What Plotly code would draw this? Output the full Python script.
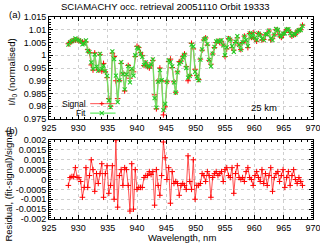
import plotly.graph_objects as go

# ---------------- data ----------------
wavelength = [
    928.3, 928.6, 928.9, 929.2, 929.5, 929.8, 930.1, 930.4, 930.7, 931.0,
    931.3, 931.6, 931.9, 932.2, 932.5, 932.8, 933.1, 933.4, 933.7, 934.0,
    934.3, 934.6, 934.9, 935.2, 935.5, 935.8, 936.1, 936.4, 936.7, 937.0,
    937.3, 937.6, 937.9, 938.2, 938.5, 938.8, 939.1, 939.4, 939.7, 940.0,
    940.3, 940.6, 940.9, 941.2, 941.5, 941.8, 942.1, 942.4, 942.7, 943.0,
    943.3, 943.6, 943.9, 944.2, 944.5, 944.8, 945.1, 945.4, 945.7, 946.0,
    946.3, 946.6, 946.9, 947.2, 947.5, 947.8, 948.1, 948.4, 948.7, 949.0,
    949.3, 949.6, 949.9, 950.2, 950.5, 950.8, 951.1, 951.4, 951.7, 952.0,
    952.3, 952.6, 952.9, 953.2, 953.5, 953.8, 954.1, 954.4, 954.7, 955.0,
    955.3, 955.6, 955.9, 956.2, 956.5, 956.8, 957.1, 957.4, 957.7, 958.0,
    958.3, 958.6, 958.9, 959.2, 959.5, 959.8, 960.1, 960.4, 960.7, 961.0,
    961.3, 961.6, 961.9, 962.2, 962.5, 962.8, 963.1, 963.4, 963.7, 964.0,
    964.3, 964.6, 964.9, 965.2, 965.5, 965.8, 966.1, 966.4, 966.7, 967.0,
    967.3, 967.6, 967.9, 968.2,
]

signal = [
    1.0045, 1.0050, 1.0055, 1.0058, 1.0060, 1.0060, 1.0057, 1.0055, 1.0052, 1.0050,
    1.0052, 1.0022, 1.0010, 0.9962, 0.9942, 1.0009, 0.9952, 0.9942, 1.0002, 0.9938,
    0.9968, 0.9935, 0.9912, 0.9830, 0.9800, 1.0008, 0.9995, 0.9900, 0.9830, 0.9900,
    0.9968, 0.9930, 0.9860, 0.9920, 0.9960, 0.9910, 0.9940, 0.9935, 0.9995, 1.0035,
    1.0030, 1.0010, 0.9998, 0.9960, 0.9970, 0.9955, 0.9950, 0.9962, 0.9980, 0.9845,
    0.9790, 0.9900, 0.9950, 0.9900, 0.9766, 0.9798, 0.9896, 0.9975, 0.9985, 0.9952,
    0.9896, 0.9855, 0.9935, 0.9975, 0.9977, 0.9994, 1.0005, 0.9955, 0.9900, 0.9920,
    1.0047, 1.0025, 0.9945, 0.9920, 0.9905, 0.9985, 1.0020, 1.0060, 1.0068, 1.0040,
    0.9980, 0.9965, 1.0005, 1.0030, 1.0050, 1.0055, 1.0050, 1.0055, 1.0040, 0.9995,
    1.0025, 1.0065, 1.0060, 1.0030, 1.0020, 1.0050, 1.0068, 1.0040, 1.0022, 1.0050,
    1.0075, 1.0055, 1.0030, 1.0085, 1.0070, 1.0088, 1.0065, 1.0055, 1.0085, 1.0080,
    1.0060, 1.0062, 1.0080, 1.0085, 1.0095, 1.0060, 1.0065, 1.0080, 1.0100, 1.0095,
    1.0080, 1.0070, 1.0080, 1.0090, 1.0100, 1.0098, 1.0090, 1.0075, 1.0080, 1.0082,
    1.0095, 1.0097, 1.0100, 1.0118,
]

fit = [
    1.0042, 1.0051, 1.00565, 1.00595, 1.0066, 1.0061, 1.0058, 1.0054, 1.0043, 1.0046,
    1.0058, 1.0018, 1.0012, 0.9972, 0.9947, 1.0003, 0.9955, 0.9940, 1.0005, 0.9946,
    0.9959, 0.9938, 0.9919, 0.9823, 0.9797, 1.0015, 0.9985, 0.9920, 0.9816, 0.9902,
    0.9973, 0.9927, 0.9866, 0.9925, 0.9957, 0.9894, 0.9948, 0.9920, 1.0000, 1.0030,
    1.0026, 1.0006, 0.9994, 0.9961, 0.9972, 0.9957, 0.9954, 0.99645, 0.9984, 0.9832,
    0.9795, 0.9897, 0.9942, 0.9902, 0.9785, 0.9809, 0.9896, 0.9981, 0.9973, 0.9956,
    0.9894, 0.9854, 0.9933, 0.9967, 0.9974, 0.9992, 1.0002, 0.9950, 0.9912, 0.9919,
    1.0042, 1.0035, 0.9935, 0.9917, 0.9902, 0.9983, 1.0023, 1.0062, 1.0067, 1.0044,
    0.9982, 0.9956, 1.0006, 1.0033, 1.0054, 1.0057, 1.0053, 1.0059, 1.0039, 1.0000,
    1.0031, 1.0067, 1.0061, 1.0036, 1.0013, 1.0053, 1.0075, 1.0041, 1.0022, 1.0051,
    1.0074, 1.0059, 1.0036, 1.0086, 1.0070, 1.0085, 1.0067, 1.0059, 1.0086, 1.0079,
    1.0065, 1.0060, 1.0083, 1.0082, 1.0097, 1.0066, 1.0059, 1.0081, 1.0103, 1.0099,
    1.0079, 1.0072, 1.0085, 1.0086, 1.0101, 1.0102, 1.0087, 1.0077, 1.0085, 1.0082,
    1.0093, 1.0098, 1.0099, 1.0115,
]

residual = [
    -0.0003, 0.0001, 0.00015, 0.00015, 0.0006, 0.0001, 0.0001, -0.0001, -0.0009, -0.0004,
    0.0006, -0.0004, 0.0002, 0.0010, 0.0005, -0.0006, 0.0003, -0.0002, 0.0003, 0.0008,
    -0.0009, 0.0003, 0.0007, -0.0007, -0.0003, 0.0007, -0.0010, 0.0020, -0.0014, 0.0002,
    0.0005, -0.0003, 0.0006, 0.0005, -0.0003, -0.0016, 0.0008, -0.0015, 0.0005, -0.0005,
    -0.0004, -0.0004, -0.0004, 0.0001, 0.0002, 0.0002, 0.0004, 0.00025, 0.0004, -0.0013,
    0.0005, -0.0003, -0.0008, 0.0002, 0.0019, 0.0011, 0.0000, 0.0006, -0.0012, 0.0004,
    -0.0002, -0.0001, -0.0002, -0.0008, -0.0003, -0.0002, -0.0003, -0.0005, 0.0012, -0.0001,
    -0.0005, 0.0010, -0.0010, -0.0003, -0.0003, -0.0002, 0.0003, 0.0002, -0.0001, 0.0004,
    0.0002, -0.0009, 0.0001, 0.0003, 0.0004, 0.0002, 0.0003, 0.0004, -0.0001, 0.0005,
    0.0006, 0.0002, 0.0001, 0.0006, -0.0007, 0.0003, 0.0007, 0.0001, 0.0000, 0.0001,
    -0.0001, 0.0004, 0.0006, 0.0001, 0.0000, -0.0003, 0.0002, 0.0004, 0.0001, -0.0001,
    0.0005, -0.0002, 0.0003, -0.0003, 0.0002, 0.0006, -0.0006, 0.0001, 0.0003, 0.0004,
    -0.0001, 0.0002, 0.0005, -0.0004, 0.0001, 0.0004, -0.0003, 0.0002, 0.0005, 0.0000,
    -0.0002, 0.0001, -0.0001, -0.0003,
]

x_ticks = [925, 930, 935, 940, 945, 950, 955, 960, 965, 970]
top_ticks = [0.975, 0.98, 0.985, 0.99, 0.995, 1.0, 1.005, 1.01, 1.015]
top_labels = ["0.975", "0.98", "0.985", "0.99", "0.995", "1", "1.005", "1.01", "1.015"]
bot_ticks = [-0.002, -0.0015, -0.001, -0.0005, 0, 0.0005, 0.001, 0.0015, 0.002]
bot_labels = ["-0.002", "-0.0015", "-0.001", "-0.0005", "0", "0.0005", "0.001", "0.0015", "0.002"]

title_text = "SCIAMACHY occ. retrieval 20051110 Orbit 19333"

# ---------------- styles ----------------
FONT = "Liberation Sans, Arial, sans-serif"
RED_LINE = "rgba(255,50,50,0.85)"
RED_MARK = "#ff0000"
GREEN_LINE = "rgba(100,235,100,0.9)"
GREEN_MARK = "#22cc22"

fig = go.Figure()

fig.add_trace(go.Scatter(
    x=wavelength, y=signal, mode="lines+markers", name="Signal",
    line=dict(color=RED_LINE, width=1),
    marker=dict(symbol="cross-thin", size=4, line=dict(color=RED_MARK, width=1)),
    xaxis="x", yaxis="y", showlegend=False,
))
fig.add_trace(go.Scatter(
    x=wavelength, y=fit, mode="lines+markers", name="Fit",
    line=dict(color=GREEN_LINE, width=1.4),
    marker=dict(symbol="x-thin", size=4, line=dict(color=GREEN_MARK, width=1.1)),
    xaxis="x", yaxis="y", showlegend=False,
))
fig.add_trace(go.Scatter(
    x=wavelength, y=residual, mode="lines+markers", name="Residual",
    line=dict(color=RED_LINE, width=1),
    marker=dict(symbol="cross-thin", size=4, line=dict(color=RED_MARK, width=1)),
    xaxis="x2", yaxis="y2", showlegend=False,
))

axis_common = dict(
    showline=True, linecolor="black", linewidth=1, mirror="allticks",
    ticks="inside", ticklen=4, tickcolor="black",
    showgrid=True, gridcolor="#cfcfcf", griddash="dot", gridwidth=1,
    zeroline=False, tickfont=dict(family=FONT, size=9, color="black"),
    automargin=False,
)

fig.update_layout(
    autosize=False,
    width=320, height=245,
    margin=dict(l=49, r=7, t=17, b=26, autoexpand=False),
    paper_bgcolor="white", plot_bgcolor="white",
    font=dict(family=FONT, size=9, color="black"),
    xaxis=dict(domain=[0, 1], range=[925, 970], anchor="y",
               tickvals=x_ticks, ticklabeloverflow="allow",
               minor=dict(dtick=1, ticks="inside", ticklen=2, tickcolor="black", showgrid=False),
               **axis_common),
    yaxis=dict(domain=[0.495, 1], range=[0.975, 1.015], anchor="x",
               tickvals=top_ticks, ticktext=top_labels, ticklabeloverflow="allow",
               minor=dict(dtick=0.001, ticks="inside", ticklen=2, tickcolor="black", showgrid=False),
               **axis_common),
    xaxis2=dict(domain=[0, 1], range=[925, 970], anchor="y2",
                tickvals=x_ticks, ticklabeloverflow="allow",
                minor=dict(dtick=1, ticks="inside", ticklen=2, tickcolor="black", showgrid=False),
                **axis_common),
    yaxis2=dict(domain=[0, 0.391], range=[-0.002, 0.002], anchor="x2",
                tickvals=bot_ticks, ticktext=bot_labels, ticklabeloverflow="allow",
                minor=dict(dtick=0.0001, ticks="inside", ticklen=2, tickcolor="black", showgrid=False),
                **axis_common),
)

ann = dict(showarrow=False, font=dict(family=FONT, size=9.5, color="black"))
key_font = dict(family=FONT, size=8.5, color="black")
fig.add_annotation(text=title_text, xref="paper", yref="paper", x=0.44, y=1.05,
                   xanchor="center", yanchor="middle", **ann)
fig.add_annotation(text="(a)", xref="paper", yref="paper", x=-0.13, y=1.01,
                   xanchor="center", yanchor="middle", **ann)
fig.add_annotation(text="(b)", xref="paper", yref="paper", x=-0.14, y=0.44,
                   xanchor="center", yanchor="middle", **ann)
fig.add_annotation(text="I/I<sub>0</sub> (normalised)", xref="paper", yref="paper",
                   x=-0.142, y=0.728, textangle=-90, xanchor="center", yanchor="middle", **ann)
fig.add_annotation(text="Residual, (fit-signal)/signal", xref="paper", yref="paper",
                   x=-0.155, y=0.161, textangle=-90, xanchor="center", yanchor="middle", **ann)
fig.add_annotation(text="Wavelength, nm", xref="paper", yref="paper",
                   x=0.503, y=-0.094, xanchor="center", yanchor="middle", **ann)
fig.add_annotation(text="25 km", xref="paper", yref="paper",
                   x=0.815, y=0.552, xanchor="center", yanchor="middle", **ann)

# custom gnuplot-style key (text right-aligned, sample line to the right)
key_ys, key_yf = 0.571, 0.524
fig.add_annotation(text="Signal", xref="paper", yref="paper", x=0.146, y=key_ys,
                   xanchor="right", yanchor="middle", showarrow=False, font=key_font)
fig.add_annotation(text="Fit", xref="paper", yref="paper", x=0.146, y=key_yf,
                   xanchor="right", yanchor="middle", showarrow=False, font=key_font)
key_x0, key_x1, key_xm = 0.156, 0.252, 0.2
fig.add_shape(type="line", xref="paper", yref="paper", x0=key_x0, x1=key_x1, y0=key_ys, y1=key_ys,
              line=dict(color=RED_LINE, width=1))
fig.add_shape(type="line", xref="paper", yref="paper", x0=key_xm - 0.008, x1=key_xm + 0.008,
              y0=key_ys, y1=key_ys, line=dict(color=RED_MARK, width=1))
fig.add_shape(type="line", xref="paper", yref="paper", x0=key_xm, x1=key_xm,
              y0=key_ys - 0.01, y1=key_ys + 0.01, line=dict(color=RED_MARK, width=1))
fig.add_shape(type="line", xref="paper", yref="paper", x0=key_x0, x1=key_x1, y0=key_yf, y1=key_yf,
              line=dict(color=GREEN_LINE, width=1.4))
fig.add_shape(type="line", xref="paper", yref="paper", x0=key_xm - 0.008, x1=key_xm + 0.008,
              y0=key_yf - 0.01, y1=key_yf + 0.01, line=dict(color=GREEN_MARK, width=1.1))
fig.add_shape(type="line", xref="paper", yref="paper", x0=key_xm - 0.008, x1=key_xm + 0.008,
              y0=key_yf + 0.01, y1=key_yf - 0.01, line=dict(color=GREEN_MARK, width=1.1))

# remove the browser's default 8px body margin so the figure starts at the page corner
fig.write_html(
    "out.html",
    config={"displayModeBar": False, "staticPlot": True},
    post_script="document.body.style.margin='0';document.body.style.padding='0';",
)
